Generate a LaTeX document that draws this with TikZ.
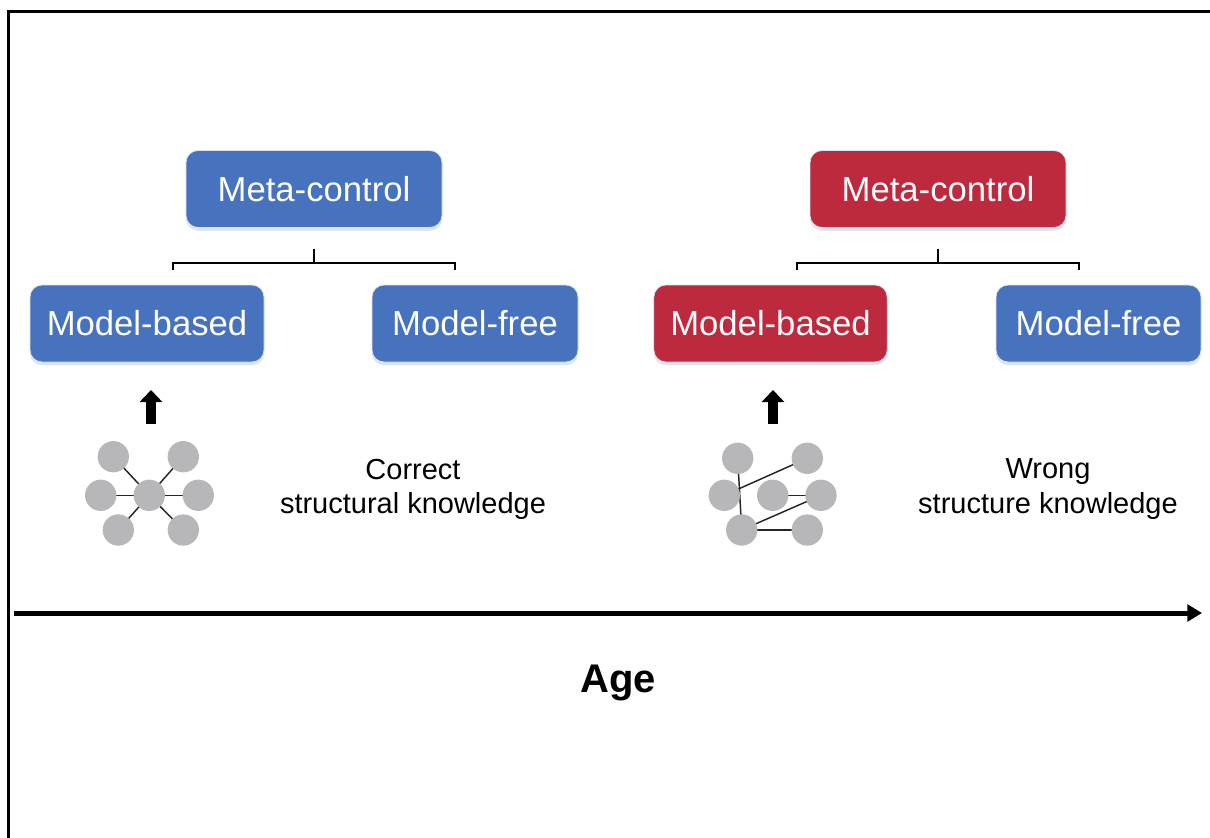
\documentclass[tikz,border=0pt]{standalone}
\usepackage{fontspec}
\setmainfont{Liberation Sans}
\usepackage{xcolor}
\usetikzlibrary{arrows.meta,positioning,calc,shadows,backgrounds}

\definecolor{boxblue}{RGB}{70,114,190}
\definecolor{boxred}{RGB}{189,42,61}
\definecolor{nodegray}{RGB}{183,183,185}

\begin{document}
\begin{tikzpicture}[
  x=0.75pt, y=-0.75pt,
  tile/.style={draw=white!80!boxblue, line width=0.6pt, rounded corners=9pt,
    text=white, font=\fontsize{26}{31}\selectfont, minimum height=57.75pt,
    drop shadow={shadow xshift=0pt, shadow yshift=-2.5pt, fill=boxblue!35, opacity=0.5}},
  bluetile/.style={tile, fill=boxblue},
  redtile/.style={tile, fill=boxred},
  bracket/.style={line width=1.1pt, draw=black},
  dot/.style={circle, fill=nodegray, minimum size=23.5pt, inner sep=0pt},
  tie/.style={line width=1.1pt, draw=black!85},
  uparrow/.style={line width=7.5pt, -{Triangle[width=16.5pt, length=9pt]}},
  axis/.style={line width=3.75pt, -{Triangle[width=12.5pt, length=11pt]}},
  caption/.style={font=\fontsize{21.75}{26}\selectfont, align=center}
]
\clip (0,0) rectangle (1210,838);
\draw[line width=2.25pt] (8.5,900) |- (1300,12);

% left: correct structure
\node[bluetile, minimum width=192pt] (mcL) at (314,189) {Meta-control};
\node[bluetile, minimum width=175.5pt] (mbL) at (147,323.5) {Model-based};
\node[bluetile, minimum width=154.5pt] (mfL) at (475,323.5) {Model-free};
\draw[bracket] (mcL.south) ++(0,21) -- ++(0,14) coordinate (bkL)
  -- ++(-141,0) -- ++(0,7);
\draw[bracket] (bkL) -- ++(141,0) -- ++(0,7);

\coordinate (arrL) at (151,424);
\draw[uparrow] (arrL) -- ++(0,-34);

\node[dot] (cC) at (149.3,495.3) {};
\node[dot] (cTL) at (113.3,456.7) {};
\node[dot] (cTR) at (183.3,456.7) {};
\node[dot] (cML) at (100.7,495.3) {};
\node[dot] (cMR) at (198.3,495.3) {};
\node[dot] (cBL) at (118.3,530) {};
\node[dot] (cBR) at (183.3,530) {};
\begin{pgfonlayer}{background}
\foreach \n in {cTL,cTR,cML,cMR,cBL,cBR}
  \draw[tie] (cC.center) -- (\n.center);
\end{pgfonlayer}

\node[caption] (txtL) at (413,489.5) {Correct\\structural knowledge};

% right: wrong structure
\node[redtile, minimum width=192pt] (mcR) at (938,189) {Meta-control};
\node[redtile, minimum width=175pt] (mbR) at (770.5,323.5) {Model-based};
\node[bluetile, minimum width=153.75pt] (mfR) at (1098.5,323.5) {Model-free};
\draw[bracket] (mcR.south) ++(0,21) -- ++(0,14) coordinate (bkR)
  -- ++(-141,0) -- ++(0,7);
\draw[bracket] (bkR) -- ++(141,0) -- ++(0,7);

\coordinate (arrR) at (773,424);
\draw[uparrow] (arrR) -- ++(0,-34);

\node[dot] (wTL) at (737.7,458.3) {};
\node[dot] (wTR) at (807.3,458.3) {};
\node[dot] (wML) at (724.3,495.3) {};
\node[dot] (wMC) at (772.7,495.3) {};
\node[dot] (wMR) at (821,495.3) {};
\node[dot] (wBL) at (741.7,530) {};
\node[dot] (wBR) at (807.3,530) {};
\begin{pgfonlayer}{background}
\draw[tie] (wTL.center) -- (wBL.center);
\draw[tie] (wML.center) -- (wTR.center);
\draw[tie] (wMC.center) -- (wMR.center);
\draw[tie] (wBL.center) -- (wMR.center);
\draw[tie] (wBL.center) -- (wBR.center);
\end{pgfonlayer}

\node[caption] (txtR) at (1048,489) {Wrong\\structure knowledge};

% time axis
\coordinate (axS) at (14,613);
\coordinate (axE) at (1202,613);
\draw[axis] (axS) -- (axE);
\node[font=\fontsize{30}{36}\selectfont\bfseries] (age) at (618,683) {Age};
\end{tikzpicture}
\end{document}
